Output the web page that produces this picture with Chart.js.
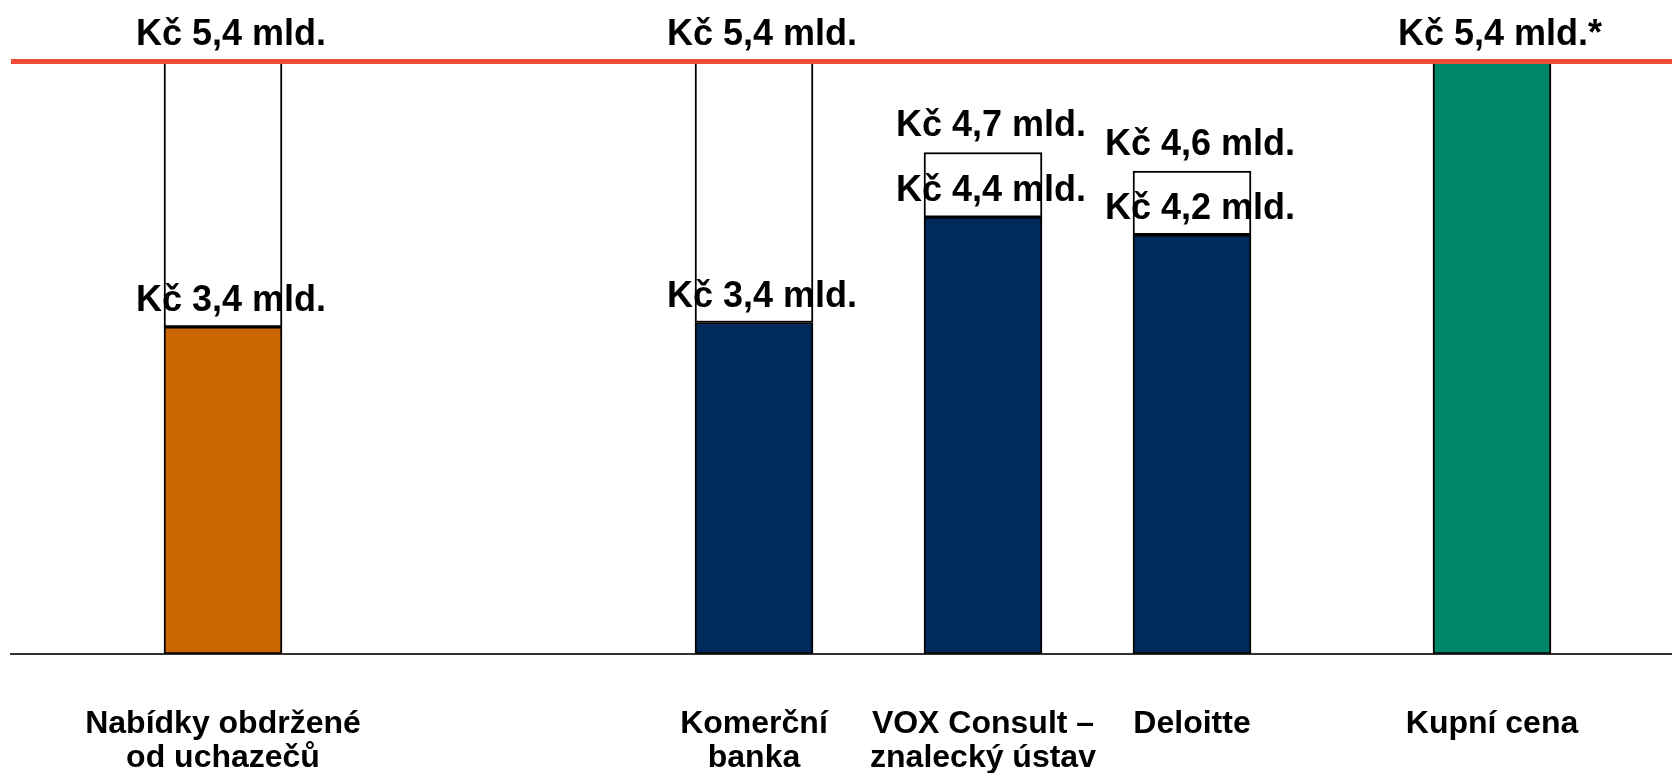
<!DOCTYPE html>
<html>
<head>
<meta charset="utf-8">
<script src="https://cdn.jsdelivr.net/npm/chart.js@4"></script>
<style>
    body { margin: 0; background: #fff; }
    #wrap { width: 1672px; height: 773px; position: relative; }
</style>
</head>
<body>
<div id="wrap"><canvas id="valChart"></canvas></div>
<script>
// categories (multi-line labels under the axis)
const categories = [
    ['Nabídky obdržené', 'od uchazečů'],
    ['Komerční', 'banka'],
    ['VOX Consult –', 'znalecký ústav'],
    ['Deloitte'],
    ['Kupní cena']
];
// where each group sits along the (hidden) horizontal axis
const groupPos = [2.12, 7.43, 9.72, 11.81, 14.81];

// bar heights as drawn in the picture (bn. CZK, slide is not to scale)
const lowValues = [2.98, 3.02, 3.98, 3.82, 5.4];
const highValues = [5.4, 5.4, 4.57, 4.40, null];

// value labels
const lowLabels = ['Kč 3,4 mld.', 'Kč 3,4 mld.', 'Kč 4,4 mld.', 'Kč 4,2 mld.', null];
const highLabels = ['Kč 5,4 mld.', 'Kč 5,4 mld.', 'Kč 4,7 mld.', 'Kč 4,6 mld.', 'Kč 5,4 mld.*'];

const purchasePrice = 5.4;
const barColors = ['#CC6600', '#002A5C', '#002A5C', '#002A5C', '#00876A'];

const xMax = 16.61;

// draw the "Kč ..." texts above the bar parts
const valueLabels = {
    id: 'valueLabels',
    afterDatasetsDraw(chart) {
        const ctx = chart.ctx;
        const x = chart.scales.x;
        const y = chart.scales.y;
        ctx.save();
        ctx.font = 'bold 36px "Liberation Sans", Arial, sans-serif';
        ctx.fillStyle = '#000';
        ctx.textAlign = 'center';
        ctx.textBaseline = 'alphabetic';
        for (let i = 0; i < groupPos.length; i++) {
            const px = x.getPixelForValue(groupPos[i]) + 8;
            if (lowLabels[i]) {
                ctx.fillText(lowLabels[i], px, y.getPixelForValue(lowValues[i]) - 16);
            }
            const top = highValues[i] !== null ? highValues[i] : lowValues[i];
            if (highLabels[i]) {
                ctx.fillText(highLabels[i], px, y.getPixelForValue(top) - 16);
            }
        }
        ctx.restore();
    }
};

var ctx = document.getElementById('valChart').getContext('2d');

var valChart = new Chart(ctx, {
    type: 'bar',
    data: {
        datasets: [
            {
                type: 'line',
                label: 'Kupní cena',
                data: [{ x: 0, y: purchasePrice }, { x: xMax, y: purchasePrice }],
                borderColor: '#F04B37',
                borderWidth: 5,
                pointRadius: 0,
                order: 0
            },
            {
                label: 'Rozpětí',
                data: groupPos.map((p, i) => ({ x: p, y: highValues[i] === null ? null : [lowValues[i], highValues[i]] })),
                backgroundColor: '#FFFFFF',
                borderColor: '#000000',
                borderWidth: 2,
                borderSkipped: false,
                barThickness: 118,
                grouped: false,
                order: 1
            },
            {
                label: 'Hodnota',
                data: groupPos.map((p, i) => ({ x: p, y: lowValues[i] })),
                backgroundColor: barColors,
                borderColor: '#000000',
                borderWidth: 2,
                borderSkipped: false,
                barThickness: 118,
                grouped: false,
                order: 2
            }
        ]
    },
    options: {
        responsive: true,
        maintainAspectRatio: false,
        animation: false,
        layout: { padding: { left: 11, right: 0, top: 0, bottom: -56 } },
        plugins: {
            legend: { display: false },
            tooltip: { enabled: false }
        },
        scales: {
            x: {
                type: 'linear',
                min: 0,
                max: xMax,
                offset: false,
                grid: { display: false, drawTicks: false },
                border: { display: true, color: '#333333', width: 2 },
                afterBuildTicks: function(scale) {
                    scale.ticks = groupPos.map(v => ({ value: v }));
                },
                ticks: {
                    autoSkip: false,
                    maxRotation: 0,
                    minRotation: 0,
                    padding: 54,
                    color: '#000',
                    font: { family: '"Liberation Sans", Arial, sans-serif', size: 32, weight: 'bold', lineHeight: 1.05 },
                    callback: function(value, index) {
                        return categories[index];
                    }
                }
            },
            y: {
                display: false,
                min: 0,
                max: 5.96
            }
        }
    },
    plugins: [valueLabels]
});
</script>
</body>
</html>
